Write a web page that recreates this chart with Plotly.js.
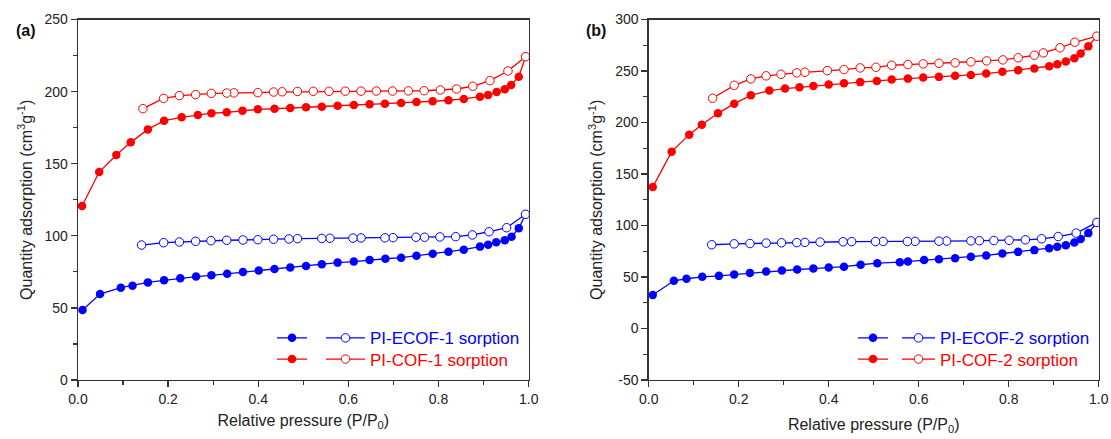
<!DOCTYPE html>
<html>
<head>
<meta charset="utf-8">
<script src="https://cdn.plot.ly/plotly-3.0.1.min.js"></script>
<style>html,body{margin:0;padding:0;background:#fff;}#chart{width:1111px;height:439px;}</style>
</head>
<body>
<div id="chart"></div>
<script>
// ---------- Panel (a) data ----------
const ecof1AdsX = [0.010,0.049,0.095,0.121,0.155,0.191,0.227,0.262,0.296,0.331,0.366,0.401,0.436,0.471,0.506,0.541,0.576,0.612,0.647,0.682,0.717,0.751,0.787,0.822,0.856,0.892,0.910,0.928,0.947,0.962,0.978,0.993];
const ecof1AdsY = [48.5,59.6,64.0,65.4,67.7,69.1,70.5,71.7,72.6,73.7,74.9,76.0,76.9,78.0,79.1,80.2,81.4,82.1,83.2,84.1,84.8,86.2,87.6,89.0,90.4,92.5,93.8,95.5,96.9,99.4,105.2,114.9];
const ecof1DesX = [0.993,0.951,0.912,0.875,0.838,0.803,0.769,0.750,0.699,0.681,0.628,0.610,0.559,0.541,0.487,0.468,0.434,0.399,0.366,0.330,0.295,0.261,0.225,0.190,0.141];
const ecof1DesY = [114.9,105.6,102.8,100.6,99.4,99.2,99.0,99.0,98.7,98.6,98.5,98.4,98.3,98.2,98.0,97.8,97.6,97.3,97.1,96.9,96.6,96.2,95.7,95.2,93.6];
const cof1AdsX = [0.009,0.047,0.085,0.117,0.155,0.191,0.230,0.266,0.296,0.330,0.365,0.399,0.436,0.471,0.506,0.541,0.576,0.612,0.647,0.681,0.717,0.751,0.787,0.822,0.856,0.892,0.910,0.929,0.947,0.961,0.978,0.993];
const cof1AdsY = [120.7,144.2,156.0,164.8,173.8,179.8,182.2,183.8,185.0,185.6,186.8,187.7,188.1,188.7,189.1,189.5,190.2,190.7,191.2,191.6,192.1,192.8,193.3,194.0,194.9,196.5,197.6,199.7,201.6,204.6,210.3,224.2];
const cof1DesX = [0.993,0.954,0.914,0.876,0.840,0.804,0.768,0.733,0.698,0.662,0.628,0.593,0.557,0.522,0.487,0.453,0.434,0.399,0.346,0.330,0.296,0.261,0.225,0.190,0.144];
const cof1DesY = [224.2,214.3,207.6,203.7,201.8,201.1,200.6,200.5,200.4,200.4,200.3,200.3,200.2,200.2,200.1,199.9,199.7,199.3,199.1,199.0,198.8,197.9,197.2,195.3,188.2];

// ---------- Panel (b) data ----------
const ecof2AdsX = [0.009,0.056,0.084,0.119,0.156,0.190,0.225,0.261,0.296,0.330,0.366,0.400,0.434,0.471,0.508,0.558,0.576,0.612,0.645,0.681,0.716,0.750,0.786,0.821,0.857,0.890,0.908,0.927,0.946,0.960,0.977,0.996];
const ecof2AdsY = [32.6,46.3,48.3,50.2,51.1,52.4,54.0,55.3,56.3,57.3,58.2,59.2,60.0,61.9,63.4,64.4,65.0,66.4,67.3,68.3,69.6,70.9,72.8,74.4,76.1,78.0,79.3,80.9,83.5,86.8,92.6,103.0];
const ecof2DesX = [0.996,0.950,0.910,0.873,0.837,0.801,0.767,0.735,0.716,0.662,0.645,0.592,0.575,0.521,0.504,0.451,0.432,0.381,0.347,0.329,0.295,0.261,0.225,0.190,0.140];
const ecof2DesY = [103.0,92.6,89.3,87.1,86.1,85.6,85.4,85.2,85.1,84.9,84.8,84.6,84.5,84.5,84.4,84.3,84.2,83.9,83.6,83.4,83.2,82.9,82.5,82.2,81.3];
const cof2AdsX = [0.009,0.051,0.090,0.118,0.154,0.190,0.227,0.268,0.303,0.335,0.366,0.400,0.434,0.470,0.507,0.540,0.576,0.610,0.645,0.681,0.716,0.750,0.786,0.821,0.857,0.890,0.908,0.927,0.946,0.960,0.977,0.996];
const cof2AdsY = [137.3,171.7,188.2,197.9,208.9,218.3,226.4,231.0,232.9,234.2,235.5,236.8,238.0,239.2,240.4,241.7,242.6,243.6,244.3,245.3,246.2,247.5,249.2,250.7,252.4,254.6,256.6,259.2,262.4,266.9,274.0,283.8];
const cof2DesX = [0.996,0.947,0.914,0.877,0.857,0.821,0.787,0.751,0.716,0.681,0.645,0.610,0.576,0.540,0.505,0.470,0.434,0.397,0.347,0.329,0.294,0.261,0.227,0.190,0.142];
const cof2DesY = [283.8,277.9,272.5,267.6,265.3,262.8,260.8,259.8,258.9,257.9,257.5,256.9,256.2,255.6,253.6,253.0,251.4,250.4,248.8,248.2,246.8,245.3,242.3,236.1,223.5];

// ---------- labels / ticks ----------
const seriesNames = ['PI-ECOF-1 sorption','PI-COF-1 sorption','PI-ECOF-2 sorption','PI-COF-2 sorption'];
const panelLabels = ['(a)','(b)'];
const xTitle = 'Relative pressure (P/P<sub>0</sub>)';
const yTitle = 'Quantity adsorption (cm<sup>3</sup>g<sup>-1</sup>)';
const xTickVals = [0, 0.2, 0.4, 0.6, 0.8, 1.0];
const xTickText = ['0.0','0.2','0.4','0.6','0.8','1.0'];
const y1TickVals = [0, 50, 100, 150, 200, 250];
const y1TickText = ['0','50','100','150','200','250'];
const y2TickVals = [-50, 0, 50, 100, 150, 200, 250, 300];
const y2TickText = ['-50','0','50','100','150','200','250','300'];

const BLUE = '#0000ff', RED = '#ff0000';
const FONT = 'Liberation Sans, Arial, sans-serif';

function filled(x, y, color, xa, ya, leg) {
  return {x, y, xaxis: xa, yaxis: ya, type: 'scatter', mode: 'lines+markers', name: ' ',
    legend: leg, line: {color, width: 1.3}, marker: {symbol: 'circle', size: 8.5, color}, hoverinfo: 'skip'};
}
function open(x, y, color, xa, ya, leg, name) {
  return {x, y, xaxis: xa, yaxis: ya, type: 'scatter', mode: 'lines+markers',
    name: '<span style="fill:' + color + '">' + name + '</span>',
    legend: leg, line: {color, width: 1.3},
    marker: {symbol: 'circle', size: 8.5, color: '#ffffff', line: {color, width: 1}}, hoverinfo: 'skip'};
}

const data = [
  filled(ecof1AdsX, ecof1AdsY, BLUE, 'x', 'y', 'legend'),
  filled(cof1AdsX, cof1AdsY, RED, 'x', 'y', 'legend2'),
  open(ecof1DesX, ecof1DesY, BLUE, 'x', 'y', 'legend3', seriesNames[0]),
  open(cof1DesX, cof1DesY, RED, 'x', 'y', 'legend4', seriesNames[1]),
  filled(ecof2AdsX, ecof2AdsY, BLUE, 'x2', 'y2', 'legend5'),
  filled(cof2AdsX, cof2AdsY, RED, 'x2', 'y2', 'legend6'),
  open(ecof2DesX, ecof2DesY, BLUE, 'x2', 'y2', 'legend7', seriesNames[2]),
  open(cof2DesX, cof2DesY, RED, 'x2', 'y2', 'legend8', seriesNames[3])
];

const axisCommon = {
  showline: true, mirror: true, linecolor: '#333', linewidth: 1.3,
  ticks: 'outside', ticklen: 6, tickwidth: 1.3, tickcolor: '#333',
  showgrid: false, zeroline: false, tickmode: 'array',
  tickfont: {family: FONT, size: 14, color: '#222'}
};
const minorCommon = {ticks: 'outside', ticklen: 4, tickwidth: 1.2, tickcolor: '#333', showgrid: false, tickmode: 'linear'};
const W = 1111, H = 439;
const yDom = [(H - 380) / H, (H - 19.5) / H];
function xAxis(dom, anchor, standoff) {
  return Object.assign({}, axisCommon, {domain: dom, anchor, range: [0, 1.0],
    tickvals: xTickVals, ticktext: xTickText,
    minor: Object.assign({}, minorCommon, {dtick: 0.1, tick0: 0}),
    title: {text: xTitle, font: {family: FONT, size: 16, color: '#222'}, standoff}});
}
function yAxis(range, anchor, tv, tt) {
  return Object.assign({}, axisCommon, {domain: yDom, anchor, range, tickvals: tv, ticktext: tt,
    minor: Object.assign({}, minorCommon, {dtick: 25, tick0: 0}),
    title: {text: yTitle, font: {family: FONT, size: 16, color: '#222'}, standoff: 8}});
}
function legendAt(xpx, topPx, itemwidth) {
  return {x: xpx / W, y: (H - topPx) / H, xanchor: 'left', yanchor: 'top', bgcolor: 'rgba(0,0,0,0)', borderwidth: 0,
    itemwidth, font: {family: FONT, size: 17, color: '#222'}, tracegroupgap: 0, itemclick: false, itemdoubleclick: false};
}
const row1 = 338.3 - 18, row2 = 359.5 - 18;

const layout = {
  width: W, height: H, margin: {l: 0, r: 0, t: 0, b: 0},
  paper_bgcolor: '#fff', plot_bgcolor: '#fff', showlegend: true,
  font: {family: FONT, color: '#222'},
  xaxis: xAxis([78 / W, 528.7 / W], 'y', 8),
  yaxis: yAxis([0, 250], 'x', y1TickVals, y1TickText),
  xaxis2: xAxis([648.7 / W, 1098.7 / W], 'y2', 12),
  yaxis2: yAxis([-50, 300], 'x2', y2TickVals, y2TickText),
  legend: legendAt(272, row1, 30),
  legend2: legendAt(272, row2, 30),
  legend3: legendAt(321, row1, 39),
  legend4: legendAt(321, row2, 39),
  legend5: legendAt(853, row1, 30),
  legend6: legendAt(853, row2, 30),
  legend7: legendAt(897, row1, 33),
  legend8: legendAt(897, row2, 33),
  annotations: [
    {text: '<b>' + panelLabels[0] + '</b>', xref: 'paper', yref: 'paper', x: 25.5 / W, y: (H - 30) / H, showarrow: false,
     font: {family: FONT, size: 16, color: '#111'}, xanchor: 'center', yanchor: 'middle'},
    {text: '<b>' + panelLabels[1] + '</b>', xref: 'paper', yref: 'paper', x: 596 / W, y: (H - 30) / H, showarrow: false,
     font: {family: FONT, size: 16, color: '#111'}, xanchor: 'center', yanchor: 'middle'}
  ]
};

Plotly.newPlot('chart', data, layout, {staticPlot: true, displayModeBar: false});
</script>
</body>
</html>
